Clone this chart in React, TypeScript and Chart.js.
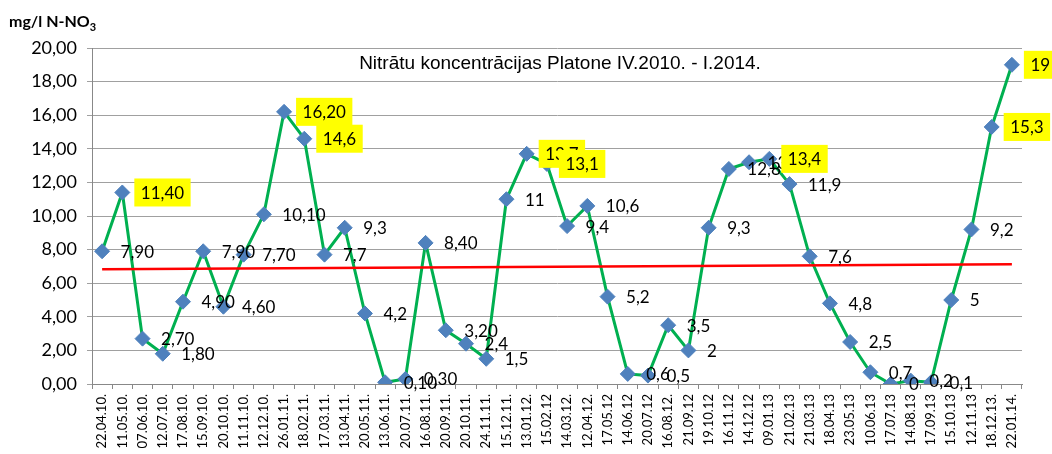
import { useEffect, useRef } from 'react';
import { Chart, registerables } from 'chart.js';

Chart.register(...registerables);

const categories = [
  '22.04.10.', '11.05.10.', '07.06.10.', '12.07.10.', '17.08.10.', '15.09.10.', '20.10.10.', '11.11.10.',
  '12.12.10.', '26.01.11.', '18.02.11.', '17.03.11.', '13.04.11.', '20.05.11.', '13.06.11.', '20.07.11.',
  '16.08.11.', '20.09.11.', '20.10.11.', '24.11.11.', '15.12.11.', '13.01.12.', '15.02.12', '14.03.12.',
  '12.04.12.', '17.05.12', '14.06.12', '20.07.12', '16.08.12.', '21.09.12', '19.10.12', '16.11.12',
  '14.12.12', '09.01.13', '21.02.13', '21.03.13', '18.04.13', '23.05.13', '10.06.13', '17.07.13',
  '14.08.13', '17.09.13', '15.10.13', '12.11.13', '18.12.13.', '22.01.14.',
];

const values = [
  7.9, 11.4, 2.7, 1.8, 4.9, 7.9, 4.6, 7.7, 10.1, 16.2, 14.6, 7.7, 9.3, 4.2, 0.1, 0.3,
  8.4, 3.2, 2.4, 1.5, 11, 13.7, 13.1, 9.4, 10.6, 5.2, 0.6, 0.5, 3.5, 2, 9.3, 12.8,
  13.2, 13.4, 11.9, 7.6, 4.8, 2.5, 0.7, 0, 0.2, 0.1, 5, 9.2, 15.3, 19,
];

const valueLabels = [
  '7,90', '11,40', '2,70', '1,80', '4,90', '7,90', '4,60', '7,70', '10,10', '16,20', '14,6', '7,7',
  '9,3', '4,2', '0,10', '0,30', '8,40', '3,20', '2,4', '1,5', '11', '13,7', '13,1', '9,4', '10,6',
  '5,2', '0,6', '0,5', '3,5', '2', '9,3', '12,8', '13,2', '13,4', '11,9', '7,6', '4,8', '2,5',
  '0,7', '0', '0,2', '0,1', '5', '9,2', '15,3', '19',
];

const highlightedLabels = [1, 9, 10, 21, 22, 33, 44, 45];

const trendStart = 6.83;
const trendEnd = 7.13;

const yTickLabels = ['0,00', '2,00', '4,00', '6,00', '8,00', '10,00', '12,00', '14,00', '16,00', '18,00', '20,00'];

const chartTitle = 'Nitrātu koncentrācijas Platone IV.2010. - I.2014.';

export default function App() {
  const ref = useRef<HTMLCanvasElement>(null);

  useEffect(() => {
    if (!ref.current) return;
    const trend = categories.map((_, i) =>
      i === 0 ? trendStart : i === categories.length - 1 ? trendEnd : null
    );

    const labelPlugin = {
      id: 'valueLabels',
      afterDatasetsDraw(chart: any) {
        const ctx = chart.ctx as CanvasRenderingContext2D;
        const meta = chart.getDatasetMeta(1);
        ctx.save();
        ctx.font = '17px Lato';
        ctx.textBaseline = 'middle';
        ctx.textAlign = 'left';
        meta.data.forEach((pt: any, i: number) => {
          const text = valueLabels[i];
          const tw = ctx.measureText(text).width;
          if (highlightedLabels.includes(i)) {
            ctx.fillStyle = '#FFFF00';
            ctx.fillRect(pt.x + 12, pt.y - 14, tw + 13, 28);
          }
          ctx.fillStyle = '#000000';
          ctx.fillText(text, pt.x + 18.5, pt.y + 1);
        });
        const area = chart.chartArea;
        ctx.font = '19px "Liberation Sans Narrow", "Liberation Sans", Arial';
        ctx.textAlign = 'center';
        ctx.fillStyle = '#000000';
        ctx.fillText(chartTitle, (area.left + area.right) / 2 + 3, 64);
        ctx.restore();
      },
    };

    const chart = new Chart(ref.current, {
      type: 'line',
      data: {
        labels: categories,
        datasets: [
          {
            label: 'Trend',
            data: trend,
            borderColor: '#FF0000',
            borderWidth: 2.5,
            pointRadius: 0,
            spanGaps: true,
            fill: false,
          },
          {
            label: 'N-NO3',
            data: values,
            borderColor: '#00B050',
            borderWidth: 3,
            pointStyle: 'rectRot',
            pointRadius: 7.5,
            pointBackgroundColor: '#4F81BD',
            pointBorderColor: '#4F81BD',
            pointBorderWidth: 1,
            tension: 0,
            fill: false,
          },
        ],
      },
      options: {
        animation: false,
        responsive: false,
        maintainAspectRatio: false,
        layout: { padding: { top: 48, right: 30, left: 0, bottom: 0 } },
        plugins: {
          legend: { display: false },
          tooltip: { enabled: false },
          title: { display: false },
        },
        scales: {
          x: {
            type: 'category',
            offset: true,
            grid: {
              display: true,
              drawOnChartArea: false,
              drawTicks: true,
              tickLength: 5,
              offset: true,
              color: '#888888',
            },
            border: { display: true, color: '#888888', width: 1 },
            ticks: {
              autoSkip: false,
              minRotation: 90,
              maxRotation: 90,
              padding: 5,
              color: '#000000',
              font: { family: 'Lato', size: 13 },
            },
            afterFit: (scale: any) => {
              scale.height = 70;
            },
          },
          y: {
            min: 0,
            max: 20,
            grid: {
              color: '#A0A0A0',
              lineWidth: 1,
              drawTicks: true,
              tickLength: 5,
            },
            border: { display: true, color: '#888888', width: 1 },
            ticks: {
              stepSize: 2,
              padding: 10,
              color: '#000000',
              font: { family: 'Lato', size: 18 },
              callback: (v: any) => yTickLabels[Math.round(Number(v) / 2)],
            },
            afterFit: (scale: any) => {
              scale.width = 92;
            },
          },
        },
      },
      plugins: [labelPlugin],
    });
    return () => chart.destroy();
  }, []);

  return (
    <div style={{ position: 'fixed', left: 0, top: 0, width: 1052, height: 454, background: '#ffffff' }}>
      <canvas ref={ref} width={1052} height={454} style={{ display: 'block', width: 1052, height: 454 }} />
      <div
        style={{
          position: 'absolute',
          left: 9,
          top: 11,
          fontFamily: 'Lato, sans-serif',
          fontWeight: 700,
          fontSize: 16,
          color: '#000000',
          whiteSpace: 'nowrap',
          lineHeight: '20px',
        }}
      >
        mg/l N-NO<sub style={{ fontSize: 11, verticalAlign: 'sub', lineHeight: 0 }}>3</sub>
      </div>
    </div>
  );
}
